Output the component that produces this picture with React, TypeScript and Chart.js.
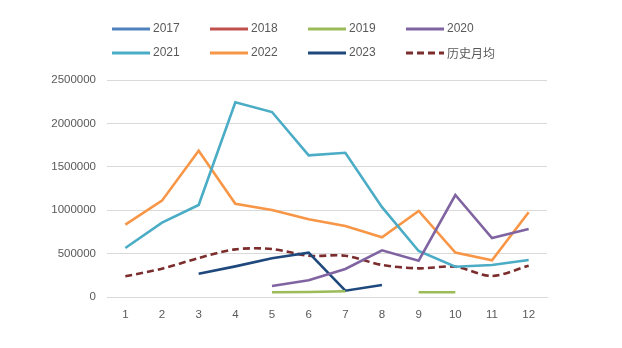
import React, { useEffect, useRef } from "react";
import { Chart, registerables } from "chart.js";

Chart.register(...registerables);

const months = ["1", "2", "3", "4", "5", "6", "7", "8", "9", "10", "11", "12"];
const s2017: (number | null)[] = [null, null, null, null, null, null, null, null, null, null, null, null];
const s2018: (number | null)[] = [null, null, null, null, null, null, null, null, null, null, null, null];
const s2019: (number | null)[] = [null, null, null, null, 55000, 58000, 66000, null, 55000, 55000, null, null];
const s2020: (number | null)[] = [null, null, null, null, 127000, 192000, 323000, 538000, 418000, 1175000, 680000, 783000];
const s2021: (number | null)[] = [565000, 856000, 1060000, 2243000, 2131000, 1632000, 1662000, 1035000, 530000, 349000, 369000, 426000];
const s2022: (number | null)[] = [833000, 1110000, 1686000, 1075000, 1002000, 895000, 818000, 688000, 991000, 511000, 423000, 976000];
const s2023: (number | null)[] = [null, null, 269000, 353000, 446000, 511000, 73000, 138000, null, null, null, null];
const histAvg: (number | null)[] = [238000, 326000, 449000, 549000, 553000, 476000, 476000, 369000, 330000, 349000, 242000, 361000];
const yTicks = [0, 500000, 1000000, 1500000, 2000000, 2500000];

const seriesNames = ["2017", "2018", "2019", "2020", "2021", "2022", "2023", "历史月均"];
const seriesData = [s2017, s2018, s2019, s2020, s2021, s2022, s2023, histAvg];
const seriesColors = ["#4f81bd", "#c0504d", "#9bbb59", "#8064a2", "#4bacc6", "#f79646", "#1f497d", "#7b2c2c"];

const TEXT = "#595959";
const FONT = "'Liberation Sans', Arial, sans-serif";

const legendPlugin = {
  id: "fixedLegend",
  afterDraw(chart: any) {
    const ctx = chart.ctx;
    ctx.save();
    seriesNames.forEach((name, i) => {
      const col = i % 4;
      const row = Math.floor(i / 4);
      const x0 = 112 + col * 98;
      const y = 29 + row * 24;
      ctx.strokeStyle = seriesColors[i];
      ctx.lineWidth = 3;
      ctx.setLineDash(i === 7 ? [7, 4] : []);
      ctx.beginPath();
      ctx.moveTo(x0, y);
      ctx.lineTo(x0 + 38, y);
      ctx.stroke();
      ctx.setLineDash([]);
      ctx.fillStyle = TEXT;
      ctx.font = `12px ${i === 7 ? "'Noto Sans CJK SC', sans-serif" : FONT}`;
      ctx.textBaseline = "middle";
      ctx.textAlign = "left";
      ctx.fillText(name, x0 + 41, y);
    });
    ctx.restore();
  },
};

export default function App() {
  const ref = useRef<HTMLCanvasElement>(null);
  useEffect(() => {
    if (!ref.current) return;
    const chart = new Chart(ref.current, {
      type: "line",
      data: {
        labels: months,
        datasets: seriesData.map((d, i) => ({
          label: seriesNames[i],
          data: d,
          borderColor: seriesColors[i],
          backgroundColor: seriesColors[i],
          borderWidth: 2.6,
          borderDash: i === 7 ? [7, 4] : [],
          pointRadius: 0,
          tension: i === 7 ? 0.3 : 0,
          spanGaps: false,
          fill: false,
        })),
      },
      options: {
        responsive: false,
        animation: false,
        layout: { padding: { top: 80, right: 75, bottom: 21, left: 0 } },
        plugins: { legend: { display: false }, tooltip: { enabled: false } },
        scales: {
          x: {
            offset: true,
            grid: { display: false, drawTicks: false },
            border: { display: true, color: "#d9d9d9", width: 1 },
            ticks: { color: TEXT, font: { family: FONT, size: 11.5 }, padding: 11, maxRotation: 0 },
            afterFit: (s: any) => { s.height = 30; },
          },
          y: {
            min: 0,
            max: 2500000,
            afterBuildTicks: (s: any) => { s.ticks = yTicks.map((v) => ({ value: v })); },
            grid: { color: "#d9d9d9", drawTicks: false },
            border: { display: false },
            ticks: {
              color: TEXT,
              font: { family: FONT, size: 11.5 },
              padding: 11,
              callback: (v: any) => String(v),
            },
            afterFit: (s: any) => { s.width = 107; },
          },
        },
      },
      plugins: [legendPlugin],
    });
    return () => chart.destroy();
  }, []);
  return (
    <div style={{ position: "absolute", left: 0, top: 0, width: 622, height: 348, background: "#fff" }}>
      <canvas ref={ref} width={622} height={348} style={{ display: "block" }} />
    </div>
  );
}
